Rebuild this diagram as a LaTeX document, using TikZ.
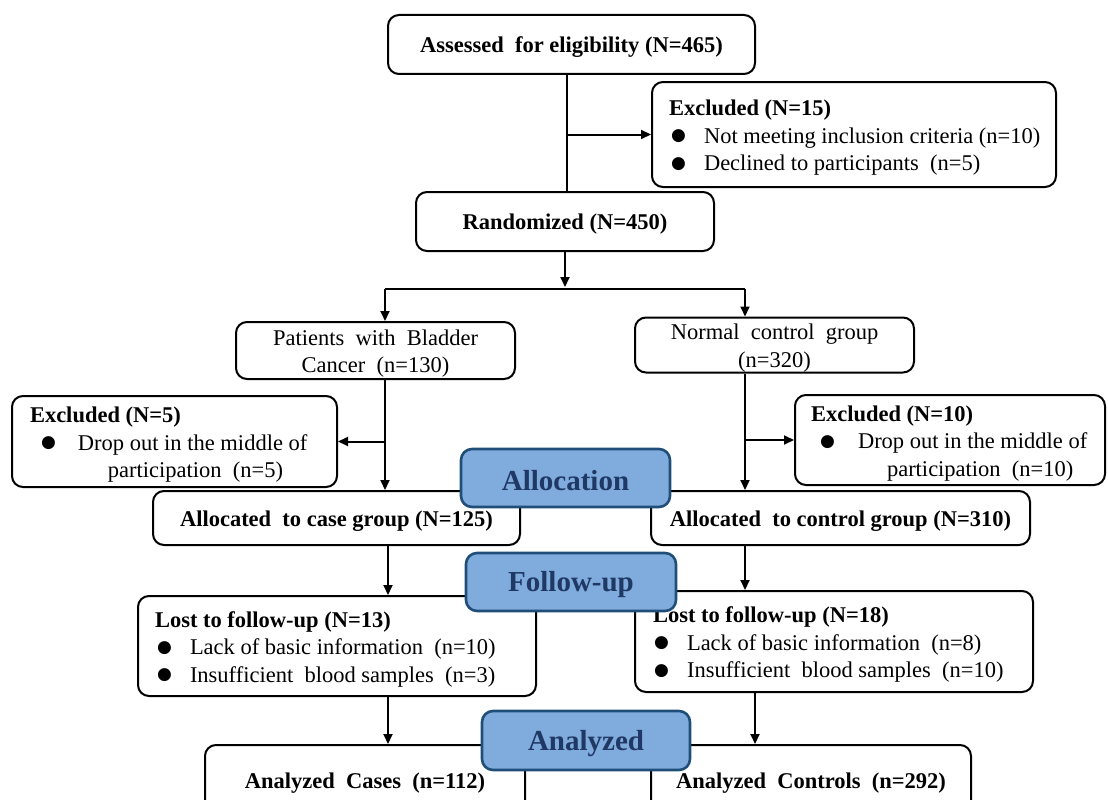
\documentclass[tikz,border=0pt]{standalone}
\usepackage{fontspec}
\setmainfont{Liberation Serif}
\newfontfamily\symfont{DejaVu Sans}
\usetikzlibrary{arrows.meta}
\definecolor{phasefill}{HTML}{7FABDD}
\definecolor{phaseline}{HTML}{1F4E79}
\definecolor{phasetext}{HTML}{1F3864}
\newcommand\blt[1]{\makebox[#1pt][l]{\raisebox{2.5pt}{\symfont\fontsize{17}{17}\selectfont ●}}}
\newcommand\dn[1]{\raisebox{-3pt}[\height][\depth]{#1}}
\newcommand\lefttext[3]{\makebox[#1pt][l]{\hspace*{#2pt}\dn{\begin{tabular}{@{}l@{}}#3\end{tabular}}}}
\newcommand\ctext[1]{\dn{\begin{tabular}{@{}c@{}}#1\end{tabular}}}
\begin{document}
\begin{tikzpicture}[x=1pt,y=-1pt,
  box/.style={draw=black, line width=2pt, rounded corners=11pt, fill=white, inner sep=0pt, align=center,
    font=\fontsize{22.5}{27.5}\selectfont},
  phase/.style={draw=phaseline, fill=phasefill, line width=2.6pt, rounded corners=11pt, inner sep=0pt,
    text=phasetext, font=\fontsize{29}{32}\selectfont\bfseries},
  conn/.style={line width=2pt},
  arr/.style={conn, -{Triangle[length=10pt,width=9pt]}}]
\useasboundingbox (0,0) rectangle (1108,800);
\clip (0,0) rectangle (1108,800);

\node[box, minimum width=367pt, minimum height=59pt] (assess) at (571.5,44.5) {\dn{\textbf{Assessed\ \ for eligibility (N=465)}}};
\node[box, minimum width=404pt, minimum height=105pt] (excl1) at (854,134.5)
  {\lefttext{404}{17}{\textbf{Excluded (N=15)}\\ \hspace*{2pt}\blt{33}Not meeting inclusion criteria (n=10)\\ \hspace*{2pt}\blt{33}Declined to participants\ \ (n=5)}};
\node[box, minimum width=298pt, minimum height=59pt] (rand) at (565,221.5) {\dn{\textbf{Randomized (N=450)}}};

\node[box, minimum width=279pt, minimum height=57pt] (pat) at (375.5,350.5) {\ctext{Patients\ \ with\ \ Bladder\\Cancer\ \ (n=130)}};
\node[box, minimum width=279pt, minimum height=54pt] (norm) at (774.5,345) {\ctext{Normal\ \ control\ \ group\\(n=320)}};

\node[box, minimum width=325pt, minimum height=91pt] (exclL) at (174.5,441.5)
  {\lefttext{325}{18}{\textbf{Excluded (N=5)}\\ \hspace*{11pt}\blt{37}Drop out in the middle of\\ \hspace*{78pt}participation\ \ (n=5)}};
\node[box, minimum width=310pt, minimum height=90pt] (exclR) at (950,440)
  {\lefttext{310}{16}{\textbf{Excluded (N=10)}\\ \hspace*{9pt}\blt{38}Drop out in the middle of\\ \hspace*{76pt}participation\ \ (n=10)}};

\node[box, minimum width=367pt, minimum height=54pt] (allocCase) at (336.5,518) {\dn{\textbf{Allocated\ \ to case group (N=125)}}};
\node[box, minimum width=379pt, minimum height=54pt] (allocCtrl) at (840.5,518) {\dn{\textbf{Allocated\ \ to control group (N=310)}}};

\node[box, minimum width=398pt, minimum height=100pt] (lost13) at (337,646)
  {\lefttext{398}{17}{\textbf{Lost to follow-up (N=13)}\\ \hspace*{2pt}\blt{33}Lack of basic information\ \ (n=10)\\ \hspace*{2pt}\blt{33}Insufficient\ \ blood samples\ \ (n=3)}};
\node[box, minimum width=398pt, minimum height=101pt] (lost18) at (834,641.5)
  {\lefttext{398}{18}{\textbf{Lost to follow-up (N=18)}\\ \hspace*{1pt}\blt{33}Lack of basic information\ \ (n=8)\\ \hspace*{1pt}\blt{33}Insufficient\ \ blood samples\ \ (n=10)}};

\node[box, minimum width=320pt, minimum height=70pt] (anCases) at (365,780) {\dn{\textbf{Analyzed\ \ Cases\ \ (n=112)}}};
\node[box, minimum width=320pt, minimum height=70pt] (anCtrl) at (811,780) {\dn{\textbf{Analyzed\ \ Controls\ \ (n=292)}}};

\coordinate (sp) at (565,287);
\coordinate (hl) at (385,289);
\coordinate (hr) at (745,289);
\coordinate (cl) at (388,0);
\coordinate (cr) at (755,0);
\coordinate (aS) at (567,0);

\draw[conn] (aS |- assess.south) -- (aS |- rand.north);
\draw[arr] (aS |- excl1.west) -- (excl1.west);
\draw[arr] (rand.south) -- (sp);
\draw[conn] (hl) -- (hr);
\draw[arr] (hl) -- (hl |- pat.north);
\draw[arr] (hr) -- (hr |- norm.north);
\draw[arr] (pat.south -| hl) -- (allocCase.north -| hl);
\draw[arr] (hl |- exclL.east) -- (exclL.east);
\draw[arr] (norm.south -| hr) -- (allocCtrl.north -| hr);
\draw[arr] (hr |- exclR.west) -- (exclR.west);
\draw[arr] (allocCase.south -| cl) -- (lost13.north -| cl);
\draw[arr] (allocCtrl.south -| hr) -- (lost18.north -| hr);
\draw[arr] (lost13.south -| cl) -- (anCases.north -| cl);
\draw[arr] (lost18.south -| cr) -- (anCtrl.north -| cr);

\node[phase, minimum width=209pt, minimum height=58pt] (allocPh) at (565.5,478) {\dn{Allocation}};
\node[phase, minimum width=210pt, minimum height=58pt] (followPh) at (571,582) {\dn{Follow-up}};
\node[phase, minimum width=208pt, minimum height=59pt] (anPh) at (586,740.5) {\dn{Analyzed}};
\end{tikzpicture}
\end{document}
